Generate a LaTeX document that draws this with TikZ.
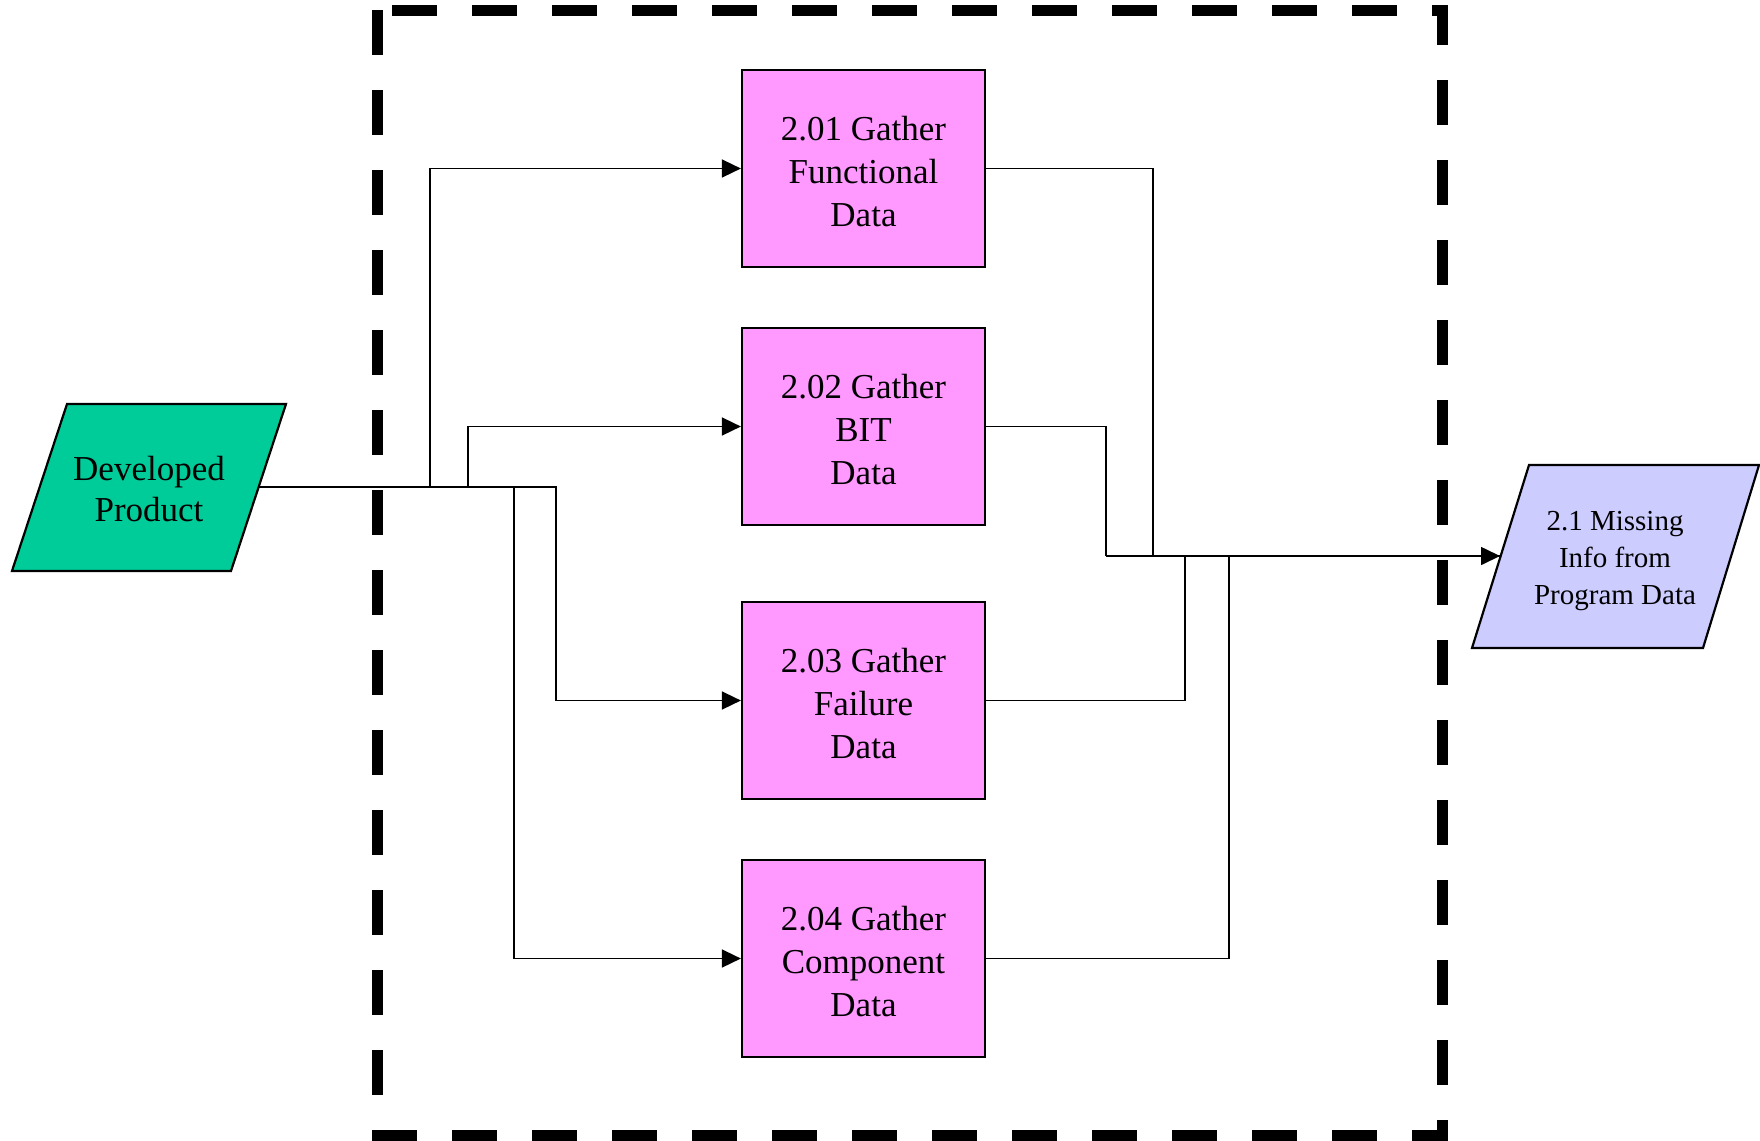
\documentclass[tikz,border=0pt]{standalone}
\usepackage{fontspec}
\setmainfont{Liberation Serif}
\usetikzlibrary{arrows.meta}
\definecolor{inputgreen}{RGB}{0,204,153}
\definecolor{taskpink}{RGB}{255,153,255}
\definecolor{outlav}{RGB}{204,204,255}
\tikzset{
  taskbox/.style={draw=black, line width=1.1pt, fill=taskpink, minimum width=121.5pt,
    minimum height=98.5pt, inner sep=0pt, align=center,
    font=\fontsize{17.5}{21.5}\selectfont},
  tasktext/.style={align=center, inner sep=0pt, font=\fontsize{17.5}{21.5}\selectfont},
  wire/.style={line width=0.8pt, -{Triangle[length=9.5pt,width=9pt]}},
  flowline/.style={line width=0.8pt},
  boundary/.style={line width=5.5pt, dash pattern=on 22.5pt off 17.5pt}
}
\begin{document}
\begin{tikzpicture}[x=0.5pt,y=-0.5pt]
\useasboundingbox (0,0) rectangle (1760,1140);

% process boundary
\draw[boundary] (377,10) rectangle (1442,1135);

% input: Developed Product
\draw[line width=1.1pt, fill=inputgreen] (67,404) -- (286,404) -- (231,571) -- (12,571) -- cycle;
\node[align=center, font=\fontsize{17.5}{20.75}\selectfont] (dp) at (149,489) {Developed\\Product};
\coordinate (dpR) at (258.5,487);

% output: Missing info
\draw[line width=1.1pt, fill=outlav] (1529,465) -- (1759,465) -- (1703,648) -- (1472,648) -- cycle;
\node[align=center, font=\fontsize{14.5}{18.5}\selectfont] (mi) at (1615,561.5) {2.1 Missing\\Info from\\Program Data};
\coordinate (miL) at (1500,556);

% tasks
\node[taskbox] (b1) at (863.5,168.5) {};
\node[taskbox] (b2) at (863.5,426.5) {};
\node[taskbox] (b3) at (863.5,700.5) {};
\node[taskbox] (b4) at (863.5,958.5) {};
\node[tasktext] (t1) at ([yshift=-1.5pt]b1.center) {2.01 Gather\\Functional\\Data};
\node[tasktext] (t2) at ([yshift=-1.5pt]b2.center) {2.02 Gather\\BIT\\Data};
\node[tasktext] (t3) at ([yshift=-1.5pt]b3.center) {2.03 Gather\\Failure\\Data};
\node[tasktext] (t4) at ([yshift=-1.5pt]b4.center) {2.04 Gather\\Component\\Data};

% inputs to tasks
\draw[wire] (dpR) -- (430,487) |- (b1.west);
\draw[wire] (dpR) -- (468,487) |- (b2.west);
\draw[wire] (dpR) -- (556,487) |- (b3.west);
\draw[wire] (dpR) -- (514,487) |- (b4.west);

% tasks to output
\draw[flowline] (b1.east) -| (1153,556);
\draw[flowline] (b2.east) -| (1106,556);
\draw[flowline] (b3.east) -| (1185,556);
\draw[flowline] (b4.east) -| (1229,556);
\draw[wire] (1106,556) -- (miL);
\draw[flowline] (1153,556) -- (miL);
\end{tikzpicture}
\end{document}
